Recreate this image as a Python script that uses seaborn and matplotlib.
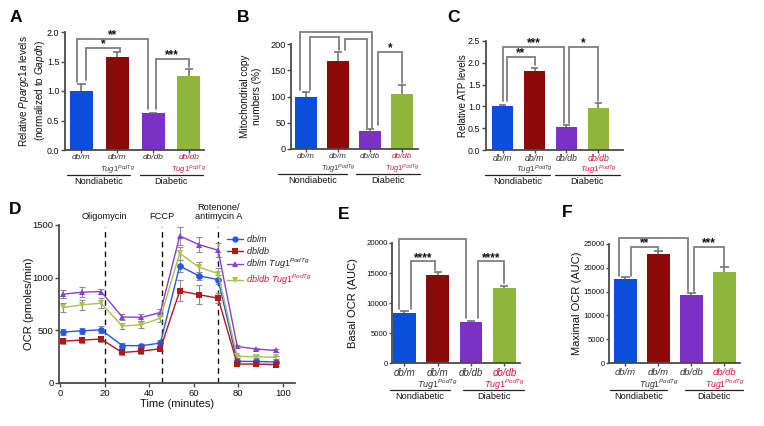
import matplotlib
matplotlib.use('Agg')
import matplotlib.pyplot as plt
import seaborn as sns
import numpy as np
import pandas as pd
from matplotlib import transforms as mtrans
from matplotlib.lines import Line2D

sns.set_theme(style='ticks')
plt.rcParams['font.family'] = ['Liberation Sans', 'DejaVu Sans']
plt.rcParams['mathtext.fontset'] = 'custom'
plt.rcParams['mathtext.rm'] = 'Liberation Sans'
plt.rcParams['mathtext.it'] = 'Liberation Sans:italic'
plt.rcParams['mathtext.bf'] = 'Liberation Sans:bold'

# ---------------- data ----------------
groups = ['db/m', 'db/m Tug1PodTg', 'db/db', 'db/db Tug1PodTg']
bar_colors = ['#0b4fd8', '#8b0b0b', '#7b30c6', '#8fb63a']
cat_line1 = ['db/m', 'db/m', 'db/db', 'db/db']
cat_line2 = ['', r'$\mathit{Tug1}^{\mathit{PodTg}}$', '', r'$\mathit{Tug1}^{\mathit{PodTg}}$']
cat_colors = ['#333333', '#333333', '#333333', '#d4153b']
group_names = ['Nondiabetic', 'Diabetic']

a_vals = [1.00, 1.57, 0.62, 1.26]
a_err = [0.12, 0.09, 0.01, 0.12]
b_vals = [100, 168, 34, 104]
b_err = [9, 16, 4, 18]
c_vals = [1.00, 1.81, 0.52, 0.96]
c_err = [0.04, 0.07, 0.05, 0.12]
e_vals = [8330, 14610, 6890, 12500]
e_err = [280, 550, 170, 390]
f_vals = [17740, 22840, 14390, 19200]
f_err = [300, 770, 420, 900]

# brackets: (x1, x2, y_top, y_leg1, y_leg2, label)
a_brackets = [(-0.12, 1.86, 1.88, 1.16, 0.70, '**'),
              (0.125, 1.07, 1.73, 1.19, 1.68, '*'),
              (2.07, 2.99, 1.54, 0.70, 1.40, '***')]
b_brackets = [(-0.19, 2.05, 223, 112, 40, '*'),
              (0.125, 1.04, 214, 112, 188, '*'),
              (1.22, 1.90, 209, 188, 40, '***'),
              (2.26, 3.00, 185, 45, 126, '*')]
c_brackets = [(0.0, 1.93, 2.36, 1.12, 0.62, '***'),
              (0.13, 1.02, 2.13, 1.12, 1.95, '**'),
              (2.09, 2.99, 2.36, 0.62, 1.12, '*')]
e_brackets = [(-0.165, 1.85, 20667, 9000, 7500, '*'),
              (0.185, 0.92, 16944, 9000, 15556, '****'),
              (2.20, 2.99, 16944, 7500, 13333, '****')]
f_brackets = [(-0.19, 1.88, 26187, 18350, 15100, '*'),
              (0.16, 0.99, 24441, 18350, 23800, '**'),
              (2.08, 3.00, 24441, 15100, 20300, '***')]

times = [1.3, 9.8, 18.4, 27.9, 36.5, 45.0, 53.7, 62.3, 70.9, 79.5, 88.1, 96.7]
ocr_dbm = [483, 496, 505, 356, 354, 379, 1111, 1017, 982, 205, 205, 199]
err_dbm = [30, 30, 35, 25, 20, 25, 60, 40, 40, 15, 15, 12]
ocr_dbdb = [398, 407, 417, 290, 303, 325, 874, 838, 806, 180, 180, 175]
err_dbdb = [30, 30, 25, 25, 25, 25, 100, 90, 50, 12, 12, 10]
ocr_dbm_tug = [843, 862, 868, 628, 622, 669, 1396, 1314, 1260, 347, 322, 309]
err_dbm_tug = [40, 45, 25, 30, 30, 35, 85, 70, 65, 15, 12, 12]
ocr_dbdb_tug = [717, 742, 758, 540, 553, 616, 1231, 1100, 1038, 252, 250, 243]
err_dbdb_tug = [45, 45, 45, 30, 35, 35, 60, 45, 50, 15, 15, 12]
line_names = ['db/m', 'db/db', 'db/m Tug1', 'db/db Tug1']
line_colors = ['#2456ec', '#b01818', '#8a3fd0', '#a8c24a']
line_markers = ['o', 's', '^', 'v']
line_labels = [r'$\mathit{db/m}$', r'$\mathit{db/db}$',
               r'$\mathit{db/m\ Tug1}^{\mathit{PodTg}}$', r'$\mathit{db/db\ Tug1}^{\mathit{PodTg}}$']
line_label_colors = ['#222222', '#222222', '#222222', '#d4153b']
drug_times = [20.0, 45.6, 71.0]
drug_names = ['Oligomycin', 'FCCP', 'Rotenone/\nantimycin A']

# ---------------- figure ----------------
W, H = 764, 426
fig = plt.figure(figsize=(W / 100, H / 100), dpi=100)

def add_ax(left, right, top, bottom):
    return fig.add_axes([left / W, 1 - bottom / H, (right - left) / W, (bottom - top) / H])

SPINE = '#4a4a4a'
BRK = '#7f7f7f'

def style_ax(ax, tick_fs, tlen=3):
    sns.despine(ax=ax)
    for s in ['left', 'bottom']:
        ax.spines[s].set_color(SPINE)
        ax.spines[s].set_linewidth(1.3)
    ax.tick_params(axis='both', length=tlen, width=1, color=SPINE, labelsize=tick_fs,
                   labelcolor='#111111', pad=1.0)

def bar_panel(ax, vals, errs, width, xlim, ylim, yticks, yfmt, ylabel, ylab_x,
              brackets, cat_fs, line_spans, tick_fs, ylab_fs, cat_off=4, grp_off=25, tlen=3):
    df = pd.DataFrame({'group': groups, 'value': vals})
    sns.barplot(data=df, x='group', y='value', hue='group', palette=bar_colors,
                width=width, errorbar=None, legend=False, ax=ax, saturation=1,
                edgecolor='none', zorder=2)
    xs = np.arange(len(vals))
    cw = width * 0.18
    for x, v, e in zip(xs, vals, errs):
        ax.vlines(x, v, v + e, color='#6a6a6a', lw=1.1, zorder=3)
        ax.hlines(v + e, x - cw, x + cw, color='#6a6a6a', lw=1.1, zorder=3)
    ax.set_xlim(*xlim)
    ax.set_ylim(*ylim)
    ax.set_yticks(yticks)
    ax.set_yticklabels([yfmt.format(t) for t in yticks])
    ax.set_xticks(xs)
    ax.set_xticklabels([])
    ax.set_xlabel('')
    ax.set_ylabel(ylabel, fontsize=ylab_fs, color='#111111')
    ax.yaxis.set_label_coords(ylab_x, 0.5)
    style_ax(ax, tick_fs, tlen)
    ax.tick_params(axis='x', length=2.5)
    for (x1, x2, yt, y1, y2, lab) in brackets:
        ax.plot([x1, x1, x2, x2], [y1, yt, yt, y2], color=BRK, lw=1.3,
                clip_on=False, zorder=4, solid_joinstyle='miter')
        ax.annotate(lab, xy=((x1 + x2) / 2, yt), xytext=(0, -2.5),
                    textcoords='offset pixels', ha='center', va='bottom',
                    fontsize=8.5, fontweight='bold', color='#111111')
    for i in range(len(vals)):
        ax.annotate(cat_line1[i], xy=(i, 0), xycoords=('data', 'axes fraction'),
                    xytext=(0, -cat_off), textcoords='offset pixels', ha='center', va='top',
                    fontsize=cat_fs, fontstyle='italic', color=cat_colors[i])
        if cat_line2[i]:
            ax.annotate(cat_line2[i], xy=(i, 0), xycoords=('data', 'axes fraction'),
                        xytext=(0, -cat_off - 10), textcoords='offset pixels', ha='center',
                        va='top', fontsize=cat_fs * 0.92, color=cat_colors[i])
    blend = mtrans.blended_transform_factory(ax.transData, ax.transAxes)
    ltr = mtrans.offset_copy(blend, fig=fig, x=0, y=-grp_off, units='dots')
    for (s0, s1), name in zip(line_spans, group_names):
        ax.plot([s0, s1], [0, 0], transform=ltr, color='#222222', lw=0.9, clip_on=False)
        ax.annotate(name, xy=((s0 + s1) / 2, 0), xycoords=('data', 'axes fraction'),
                    xytext=(0, -grp_off - 2), textcoords='offset pixels', ha='center',
                    va='top', fontsize=6.6, color='#111111')

# Panel A
axA = add_ax(65, 204, 32, 150)
bar_panel(axA, a_vals, a_err, 0.64, (-0.46, 3.42), (0, 2.0), [0, 0.5, 1.0, 1.5, 2.0], '{:.1f}',
          'Relative $\\mathit{Ppargc1a}$ levels\n(normalized to $\\mathit{Gapdh}$)', -0.13,
          a_brackets, 6.0, [(-0.4, 1.35), (1.62, 3.38)], 6.4, 7.2)
# Panel B
axB = add_ax(291, 418, 44, 149)
bar_panel(axB, b_vals, b_err, 0.69, (-0.47, 3.5), (0, 200), [0, 50, 100, 150, 200], '{:.0f}',
          'Mitochondrial copy\nnumbers (%)', -0.23,
          b_brackets, 5.8, [(-0.88, 1.28), (1.56, 3.56)], 6.6, 7.2)
# Panel C
axC = add_ax(486, 623, 41, 150)
bar_panel(axC, c_vals, c_err, 0.66, (-0.52, 3.77), (0, 2.5), [0, 0.5, 1.0, 1.5, 2.0, 2.5], '{:.1f}',
          'Relative ATP levels', -0.128,
          c_brackets, 6.3, [(-0.55, 1.48), (1.64, 3.67)], 6.4, 7.0)
# Panel E
axE = add_ax(392, 520, 243, 363)
bar_panel(axE, e_vals, e_err, 0.68, (-0.375, 3.47), (0, 20000), [0, 5000, 10000, 15000, 20000], '{:.0f}',
          'Basal OCR (AUC)', -0.263,
          e_brackets, 7.0, [(-0.44, 1.37), (1.76, 3.6)], 5.6, 8.0, cat_off=5, grp_off=27, tlen=2)
# Panel F
axF = add_ax(609, 740, 244, 363)
bar_panel(axF, f_vals, f_err, 0.68, (-0.5, 3.47), (0, 25000), [0, 5000, 10000, 15000, 20000, 25000], '{:.0f}',
          'Maximal OCR (AUC)', -0.205,
          f_brackets, 6.8, [(-0.47, 1.26), (1.8, 3.56)], 5.6, 8.0, cat_off=5, grp_off=27, tlen=2)

# Panel D
axD = add_ax(59, 295, 225, 383)
series = [ocr_dbm, ocr_dbdb, ocr_dbm_tug, ocr_dbdb_tug]
errs = [err_dbm, err_dbdb, err_dbm_tug, err_dbdb_tug]
rows = []
for name, vals in zip(line_names, series):
    for t, v in zip(times, vals):
        rows.append({'time': t, 'ocr': v, 'group': name})
dfD = pd.DataFrame(rows)
for vals, e in zip(series, errs):
    axD.errorbar(times, vals, yerr=e, fmt='none', ecolor='#8c8c8c', elinewidth=0.8,
                 capsize=2.2, capthick=0.8, zorder=2)
sns.lineplot(data=dfD, x='time', y='ocr', hue='group', style='group',
             hue_order=line_names, style_order=line_names,
             palette=line_colors, markers=line_markers, dashes=False,
             markersize=4.8, markeredgewidth=0, linewidth=1.0, legend=False, ax=axD, zorder=3)
for t in drug_times:
    axD.axvline(t, ymin=0, ymax=0.985, color='#111111', lw=1.0, ls=(0, (4, 3)), zorder=1)
for t, name in zip(drug_times, drug_names):
    axD.annotate(name, xy=(t, 1.0), xycoords=('data', 'axes fraction'), xytext=(0, 4),
                 textcoords='offset pixels', ha='center', va='bottom', fontsize=6.7,
                 color='#111111', linespacing=1.0)
axD.set_xlim(-0.45, 105.4)
axD.set_ylim(0, 1500)
axD.set_xticks([0, 20, 40, 60, 80, 100])
axD.set_yticks([0, 500, 1000, 1500])
axD.set_xlabel('Time (minutes)', fontsize=8, color='#111111', labelpad=1)
axD.set_ylabel('OCR (pmoles/min)', fontsize=8, color='#111111')
axD.yaxis.set_label_coords(-0.108, 0.5)
style_ax(axD, 6.8)
handles = [Line2D([0], [0], color=c, marker=m, ms=4.5, mew=0, lw=1.0)
           for c, m in zip(line_colors, line_markers)]
leg = axD.legend(handles, line_labels, loc='upper left', bbox_to_anchor=(0.71, 0.95),
                 frameon=False, fontsize=6.5, handlelength=1.8, handletextpad=0.35,
                 labelspacing=0.12, borderaxespad=0, borderpad=0)
for txt, c in zip(leg.get_texts(), line_label_colors):
    txt.set_color(c)

# panel letters
for letter, (px, py) in zip('ABCDEF', [(10, 17), (237, 17), (447, 18), (9, 210), (338, 215), (562, 212)]):
    fig.text(px / W, 1 - py / H, letter, fontsize=12.5, fontweight='bold', ha='left',
             va='center', color='#000000')

fig.savefig('out.png', dpi=100)
